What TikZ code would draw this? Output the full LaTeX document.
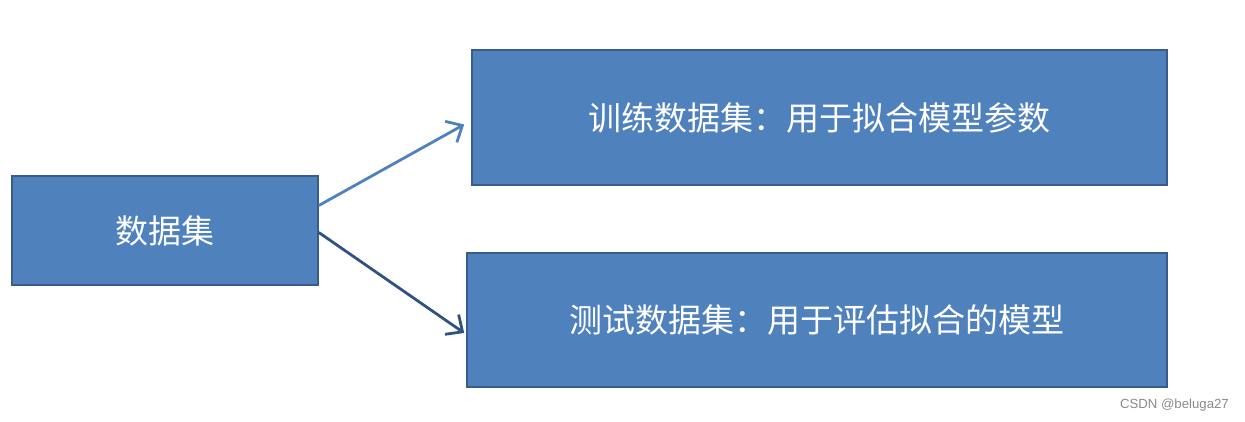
\documentclass[tikz,border=0pt]{standalone}
\usepackage{fontspec}
\newfontfamily\cjk{Noto Sans CJK SC}
\newfontfamily\wmfont{Liberation Sans}
\usepackage{tikz}
\usetikzlibrary{arrows.meta,positioning,calc}
\definecolor{acc}{HTML}{4F81BD}
\definecolor{accd}{HTML}{385D8A}
\definecolor{accdd}{HTML}{2F5280}
\definecolor{mute}{HTML}{8A8A8A}
\tikzset{
  box/.style={draw=accd,fill=acc,line width=1.6pt,text=white,font=\cjk\fontsize{33}{38}\selectfont,inner sep=0pt,align=center},
  arr/.style={-{Straight Barb[length=13pt,width=24pt,line width=2.8pt]},line width=2.8pt},
}
\begin{document}
\begin{tikzpicture}[x=1pt,y=-1pt]
\useasboundingbox (0,0) rectangle (1245,422);
\node[box,minimum width=306pt,minimum height=109pt] (data) at (165,230.5) {数据集};
\node[box,minimum width=695pt,minimum height=135pt] (train) at (819.5,117.5) {训练数据集：用于拟合模型参数};
\node[box,minimum width=700pt,minimum height=134pt] (test) at (817,320) {测试数据集：用于评估拟合的模型};
\draw[arr,draw=acc] ([yshift=25pt]data.east) -- ([xshift=-7pt,yshift=-7pt]train.west);
\draw[arr,draw=accdd] ([yshift=-2pt]data.east) -- ([xshift=-2pt,yshift=-13pt]test.west);
\node[font=\wmfont\fontsize{13.2}{15}\selectfont,text=mute,anchor=east,inner sep=0pt] (wm) at (1229,405) {CSDN @beluga27};
\end{tikzpicture}
\end{document}
